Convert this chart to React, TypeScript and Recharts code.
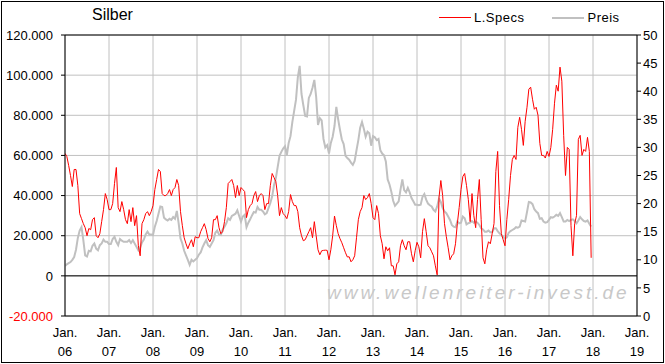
import React from "react";
import {
  ComposedChart,
  Line,
  XAxis,
  YAxis,
  CartesianGrid,
  ReferenceLine,
} from "recharts";

// Large speculators net position (thousands of contracts), two readings per month
const specs2006 = [61, 59.5, 55, 50, 44.5, 53, 53, 45, 31, 28.5, 26, 24, 20, 23.6, 23, 28, 29, 20, 19, 21, 27, 33, 41, 38];
const specs2007 = [33, 33, 36, 46, 54, 34, 32, 37, 33, 28, 26, 33, 27, 34, 25, 30, 15, 10, 26, 28, 31, 32, 30, 32];
const specs2008 = [35, 43, 48, 53, 52, 41, 40, 40, 41, 43, 40, 43, 44, 48, 45, 32, 25, 19, 16, 13.5, 16, 18, 14.5, 19.5];
const specs2009 = [19, 19, 22, 24, 26, 23, 18.6, 17, 19, 28, 28, 30, 24, 21, 22, 27, 34, 46, 47, 48, 45, 39, 45, 40];
const specs2010 = [44, 43, 42, 29, 33, 35, 36, 40, 42, 37, 40, 41, 40, 33, 36, 36, 45, 51, 49, 47, 40, 30, 34, 31];
const specs2011 = [30, 28.5, 32, 40.5, 37, 35, 35, 32, 24, 20, 17.5, 18, 20, 22, 24, 19, 27, 20, 13, 10.5, 12.5, 12.7, 12.8, 12.7];
const specs2012 = [8, 13, 20, 29.8, 25, 21, 18.5, 16.5, 14, 11.5, 9.4, 9.5, 7, 8, 10, 19, 28, 32, 34, 40, 38, 39, 41, 36];
const specs2013 = [29, 28, 35, 31, 20, 16, 8.5, 14.5, 12.5, 14, 5, 5, 0.5, 6, 7, 15, 18, 15, 13, 17, 17, 11, 7, 12.5];
const specs2014 = [16.7, 14.5, 9, 22, 28.5, 22, 15, 14, 12, 10, 5, 0.5, 39, 47.5, 40, 26, 19.5, 14, 8, 10, 11, 16, 26, 34];
const specs2015 = [43, 49.5, 51, 45, 38, 27, 41, 30, 24, 38, 48, 28, 9, 6, 13, 17, 16, 21, 26, 52, 62, 35, 21, 18];
const specs2016 = [15, 28, 38, 50, 58, 60, 58, 74, 79, 73, 65, 77, 84, 93, 94, 88, 83, 84, 80, 66, 60, 60, 58.7, 62];
const specs2017 = [59.5, 64, 73, 86, 95, 92, 104, 97, 70, 50, 64, 63, 25, 10, 26, 30, 68, 70, 60, 63, 62, 69, 62, 9];

// silver price (USD/oz)
const preis2006 = [8.9, 9.2, 9.4, 9.6, 10.0, 10.5, 11.8, 13.9, 15.2, 15.8, 13.5, 10.8, 10.6, 11.6, 11.5, 12.5, 12.9, 12.0, 11.7, 12.6, 12.9, 13.6, 13.2, 13.2];
const preis2007 = [12.8, 12.8, 13.7, 14.1, 13.2, 12.6, 13.7, 13.4, 13.2, 13.2, 13.2, 13.5, 13.0, 13.5, 12.9, 12.3, 11.7, 12.2, 13.1, 13.6, 14.5, 15.0, 14.5, 14.5];
const preis2008 = [14.4, 15.9, 16.9, 18.2, 19.5, 19.4, 17.5, 17.2, 17.0, 17.3, 17.1, 17.6, 17.3, 18.7, 16.5, 13.8, 12.9, 11.6, 10.8, 10.0, 9.1, 10.0, 9.7, 10.0];
const preis2009 = [10.3, 10.9, 11.3, 12.2, 12.9, 13.5, 12.6, 12.3, 12.9, 13.5, 14.8, 15.2, 14.5, 14.4, 15.4, 15.9, 16.5, 17.4, 17.1, 17.8, 18.0, 18.2, 18.8, 17.8];
const preis2010 = [16.8, 17.7, 18.0, 15.8, 16.6, 17.2, 17.9, 18.5, 18.4, 19.4, 18.9, 18.9, 18.6, 18.1, 18.3, 19.2, 20.1, 21.3, 23.3, 24.5, 26.5, 28.5, 29.2, 29.8];
const preis2011 = [30.2, 28.6, 30.8, 32, 34.5, 36.5, 38.5, 42.5, 44.5, 39.5, 37.5, 35.6, 35.5, 38.8, 39.5, 40.6, 42.0, 39, 34.0, 35.2, 34.8, 31.5, 30.0, 30.4];
const preis2012 = [28.9, 30.8, 31.9, 33.8, 37.2, 35, 33.1, 31.4, 30.6, 28.5, 28.1, 27.8, 27.3, 26.9, 27.6, 29.5, 31.3, 33.5, 34.5, 33.3, 31.9, 32.8, 32.5, 30.3];
const preis2013 = [32.0, 31.8, 31.3, 31.5, 29.5, 28.9, 28.6, 27.5, 24.3, 23.4, 22.1, 20.5, 19.6, 20.0, 20.4, 22.5, 24.3, 22.4, 22.0, 22.8, 22.0, 21.0, 20.4, 19.8];
const preis2014 = [19.8, 19.7, 19.8, 21.2, 21.7, 20.7, 20.0, 19.7, 19.5, 18.9, 18.6, 19.5, 20.9, 20.3, 19.2, 18.6, 18.3, 17.7, 17.1, 16.2, 15.9, 15.8, 16.8, 16.5];
const preis2015 = [16.6, 17.7, 17.4, 16.3, 16.5, 16.6, 16.9, 16.6, 16.8, 16.6, 16.2, 15.6, 15.4, 15.0, 15.0, 15.2, 14.9, 14.9, 15.6, 15.6, 15.1, 14.7, 14.4, 14.1];
const preis2016 = [13.8, 14.0, 14.8, 15.1, 15.3, 15.5, 15.8, 15.7, 15.9, 17.0, 16.9, 16.8, 18.5, 20.3, 20.2, 19.9, 19.0, 18.6, 18.3, 17.3, 17.4, 16.8, 16.6, 16.7];
const preis2017 = [17.1, 17.6, 17.5, 17.7, 18.0, 17.8, 18.3, 17.6, 16.8, 16.8, 17.1, 16.9, 17.1, 17.2, 16.9, 16.5, 17.0, 17.6, 17.2, 16.9, 16.8, 17.0, 16.4, 15.9];

const years = [2006, 2007, 2008, 2009, 2010, 2011, 2012, 2013, 2014, 2015, 2016, 2017];
const specsByYear = [specs2006, specs2007, specs2008, specs2009, specs2010, specs2011, specs2012, specs2013, specs2014, specs2015, specs2016, specs2017];
const preisByYear = [preis2006, preis2007, preis2008, preis2009, preis2010, preis2011, preis2012, preis2013, preis2014, preis2015, preis2016, preis2017];

const xTicks = [2006, 2007, 2008, 2009, 2010, 2011, 2012, 2013, 2014, 2015, 2016, 2017, 2018, 2019];
const leftTicks = [-20000, 0, 20000, 40000, 60000, 80000, 100000, 120000];
const rightTicks = [0, 5, 10, 15, 20, 25, 30, 35, 40, 45, 50];

const data = years.flatMap((yr, i) =>
  specsByYear[i].map((v, k) => ({
    t: yr + k / 24,
    specs: v * 1000,
    preis: preisByYear[i][k],
  }))
);

const FONT = "'Liberation Sans', Arial, sans-serif";

const fmtDe = (v: number) => String(v).replace(/\B(?=(\d{3})+(?!\d))/g, ".");

const LeftTick = (props: any) => {
  const { x, y, payload } = props;
  return (
    <text x={x} y={y} dy="0.36em" textAnchor="end" fontSize={13} fontFamily={FONT}
      fill={payload.value < 0 ? "#ff0000" : "#000"}>
      {fmtDe(payload.value)}
    </text>
  );
};

const RightTick = (props: any) => {
  const { x, y, payload } = props;
  return (
    <text x={x} y={y} dy="0.36em" textAnchor="start" fontSize={13} fontFamily={FONT} fill="#000">
      {payload.value}
    </text>
  );
};

const YearTick = (props: any) => {
  const { x, y, payload } = props;
  const yy = String(payload.value).slice(2);
  return (
    <text textAnchor="middle" fontSize={13} fontFamily={FONT} fill="#000">
      <tspan x={x} y={y + 21}>Jan.</tspan>
      <tspan x={x} y={y + 40}>{yy}</tspan>
    </text>
  );
};

export default function App() {
  return (
    <div style={{ position: "absolute", left: 0, top: 0, width: 665, height: 364, background: "#fff" }}>
      <div style={{ position: "absolute", left: 1, top: 1, width: 661, height: 360, border: "1px solid #000" }} />
      <ComposedChart
        width={665}
        height={364}
        data={data}
        margin={{ top: 35, right: 0, bottom: 0, left: 0 }}
        style={{ position: "absolute", left: 0, top: 0 }}
      >
        <CartesianGrid yAxisId="left" stroke="#c0c0c0" strokeWidth={1} />
        <XAxis
          dataKey="t"
          type="number"
          domain={[2006, 2019]}
          ticks={xTicks}
          interval={0}
          height={48}
          tickLine={false}
          tickSize={0}
          tickMargin={0}
          axisLine={{ stroke: "#000" }}
          tick={<YearTick />}
          allowDataOverflow
        />
        <YAxis
          yAxisId="left"
          orientation="left"
          width={65}
          domain={[-20000, 120000]}
          ticks={leftTicks}
          interval={0}
          tickSize={4}
          tickMargin={8}
          axisLine={{ stroke: "#000" }}
          tickLine={{ stroke: "#000" }}
          tick={<LeftTick />}
          allowDataOverflow
        />
        <YAxis
          yAxisId="right"
          orientation="right"
          width={28}
          domain={[0, 50]}
          ticks={rightTicks}
          interval={0}
          tickSize={4}
          tickMargin={2}
          axisLine={{ stroke: "#000" }}
          tickLine={{ stroke: "#000" }}
          tick={<RightTick />}
          allowDataOverflow
        />
        <ReferenceLine yAxisId="left" y={0} stroke="#000" />
        <ReferenceLine yAxisId="left" y={120000} stroke="#000" />
        <Line
          yAxisId="right"
          dataKey="preis"
          name="Preis"
          type="linear"
          stroke="#c0c0c0"
          strokeWidth={2}
          dot={false}
          isAnimationActive={false}
        />
        <Line
          yAxisId="left"
          dataKey="specs"
          name="L.Specs"
          type="linear"
          stroke="#ff0000"
          strokeWidth={1}
          dot={false}
          isAnimationActive={false}
        />
      </ComposedChart>
      <div style={{ position: "absolute", left: 92, top: 6, fontFamily: FONT, fontSize: 16, color: "#000" }}>
        Silber
      </div>
      <div
        style={{
          position: "absolute",
          left: 439,
          top: 10,
          display: "flex",
          alignItems: "center",
          fontFamily: FONT,
          fontSize: 13,
          color: "#000",
        }}
      >
        <span style={{ width: 32, height: 1, background: "#ff0000", display: "inline-block", marginRight: 3 }} />
        <span style={{ letterSpacing: 0.5 }}>L.Specs</span>
        <span style={{ width: 32, height: 2, background: "#c0c0c0", display: "inline-block", marginLeft: 28, marginRight: 3 }} />
        <span style={{ letterSpacing: 0.5 }}>Preis</span>
      </div>
      <div
        style={{
          position: "absolute",
          left: 327,
          top: 282,
          fontFamily: FONT,
          fontSize: 19,
          fontStyle: "italic",
          letterSpacing: 3,
          color: "#c8c8c8",
          whiteSpace: "nowrap",
        }}
      >
        www.wellenreiter-invest.de
      </div>
    </div>
  );
}
